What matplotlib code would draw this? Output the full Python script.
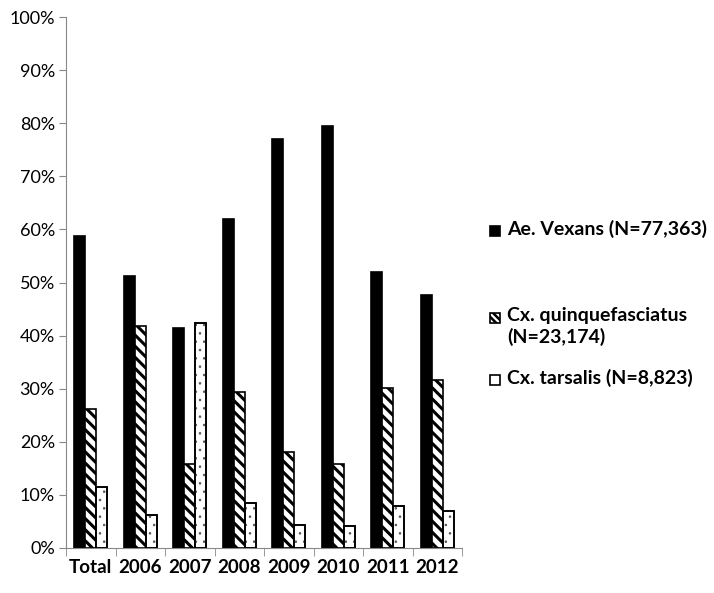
import matplotlib
matplotlib.use("Agg")
import matplotlib.pyplot as plt
from matplotlib.patches import Rectangle
import numpy as np

categories = ["Total", "2006", "2007", "2008", "2009", "2010", "2011", "2012"]
vexans = [58.8, 51.3, 41.4, 62.0, 77.0, 79.4, 51.9, 47.6]
quinque = [26.2, 41.9, 15.9, 29.3, 18.1, 15.9, 30.1, 31.6]
tarsalis = [11.5, 6.2, 42.4, 8.4, 4.3, 4.2, 7.9, 7.0]
series_labels = ["Ae. Vexans (N=77,363)", "Cx. quinquefasciatus\n(N=23,174)", "Cx. tarsalis (N=8,823)"]
yticks = list(range(0, 101, 10))

plt.rcParams['font.family'] = ['Lato', 'DejaVu Sans']
plt.rcParams['hatch.linewidth'] = 2.2

fig = plt.figure(figsize=(7.14, 5.93), dpi=100)
ax = fig.add_axes([66/714, 45/593, (462-66)/714, (548-17)/593])

x = np.arange(len(categories))
w = 0.225
ax.bar(x - w, vexans, w, color='black', edgecolor='black', linewidth=1.2)
ax.bar(x, quinque, w, color='white', edgecolor='black', hatch='\\\\\\', linewidth=1.2)
ax.bar(x + w, tarsalis, w, color='white', edgecolor='black', linewidth=1.2)
# sparse dots for tarsalis
plt.rcParams['hatch.linewidth'] = 0.6
ax.bar(x + w, tarsalis, w, color='none', edgecolor='#555555', hatch='..', linewidth=0)
ax.bar(x + w, tarsalis, w, color='none', edgecolor='black', linewidth=1.2)

ax.set_xlim(-0.5, len(categories) - 0.5)
ax.set_ylim(0, 100)
ax.set_yticks(yticks)
ax.set_yticklabels([f"{t}%" for t in yticks], fontsize=13)
ax.set_xticks(x)
ax.set_xticklabels(categories, fontsize=13.5, fontweight='bold')
ax.tick_params(axis='x', length=0, pad=8)
ax.set_xticks(np.arange(-0.5, len(categories)), minor=True)
ax.tick_params(axis='x', which='minor', length=6, color='#888888', direction='out')
ax.tick_params(axis='y', length=5, color='#888888', direction='out', pad=3)
for s in ['top', 'right']:
    ax.spines[s].set_visible(False)
ax.spines['left'].set_color('#888888')
ax.spines['bottom'].set_color('#888888')

# legend
plt.rcParams['hatch.linewidth'] = 1.8
leg_items = [
    (231, dict(facecolor='black', edgecolor='black', hatch=None)),
    (318, dict(facecolor='white', edgecolor='black', hatch='\\\\\\\\\\')),
    (380, dict(facecolor='white', edgecolor='black', hatch=None)),
]
for (ypix, style), lab in zip(leg_items, series_labels):
    yf = 1 - ypix / 593
    r = Rectangle((490/714, yf - 5/593), 10/714, 10/593, transform=fig.transFigure,
                  linewidth=1.2, **style)
    fig.patches.append(r)
    fig.text(507/714, yf + 11/593, lab, fontsize=14, fontweight='bold', va='top',
             ha='left', linespacing=1.25)

fig.savefig("out.png", dpi=100)
